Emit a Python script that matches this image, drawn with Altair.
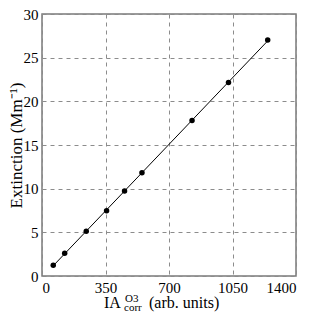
import altair as alt
import pandas as pd

ia_values = [62, 125, 244, 356, 455, 551, 827, 1028, 1244]
extinction = [1.23, 2.6, 5.13, 7.47, 9.74, 11.82, 17.8, 22.15, 27.02]
x_ticks = [0, 350, 700, 1050, 1400]
y_ticks = [0, 5, 10, 15, 20, 25, 30]

df = pd.DataFrame({"ia": ia_values, "ext": extinction})

FONT = "Times New Roman, Liberation Serif, serif"

xs = alt.Scale(domain=[0, 1400], nice=False)
ys = alt.Scale(domain=[0, 30], nice=False)

xax = alt.Axis(values=x_ticks, title=None, grid=True, gridDash=[4, 4], gridColor="#8c8c8c",
               gridWidth=1, ticks=False, domain=False, labelFont=FONT, labelFontSize=15,
               labelColor="black", labelPadding=4, format="d")
yax = alt.Axis(values=y_ticks, title="Extinction (Mm⁻¹)", grid=True, gridDash=[4, 4],
               gridColor="#8c8c8c", gridWidth=1, ticks=False, domain=False, labelFont=FONT,
               labelFontSize=15, labelColor="black", labelPadding=4, titleFont=FONT,
               titleFontSize=17, titleFontWeight="normal", titleColor="black", titlePadding=-2,
               format="d")

base = alt.Chart(df)

line = base.transform_regression("ia", "ext").mark_line(color="black", strokeWidth=1).encode(
    x=alt.X("ia:Q", scale=xs, axis=xax),
    y=alt.Y("ext:Q", scale=ys, axis=yax),
)

points = base.mark_circle(color="black", opacity=1, size=30).encode(
    x=alt.X("ia:Q", scale=xs),
    y=alt.Y("ext:Q", scale=ys),
)

title_parts = [
    ("IA", 62, 294, 16),
    ("O3", 83, 288, 11),
    ("corr", 82, 297, 11),
    ("(arb. units)", 107, 294, 16),
]

texts = []
for t, px, py, fs in title_parts:
    texts.append(
        alt.Chart(pd.DataFrame({"t": [t]})).mark_text(
            font=FONT, fontSize=fs, align="left", baseline="alphabetic", color="black"
        ).encode(text="t:N", x=alt.value(px), y=alt.value(py))
    )

chart = alt.layer(line, points, *texts).properties(
    width=254, height=262,
    autosize=alt.AutoSizeParams(type="none"),
    padding={"left": 34, "top": 6, "right": 16, "bottom": 36},
).configure_view(stroke="#7a7a7a", strokeWidth=1.5)

chart.save("out.html", embed_options={"renderer": "svg", "actions": False})
